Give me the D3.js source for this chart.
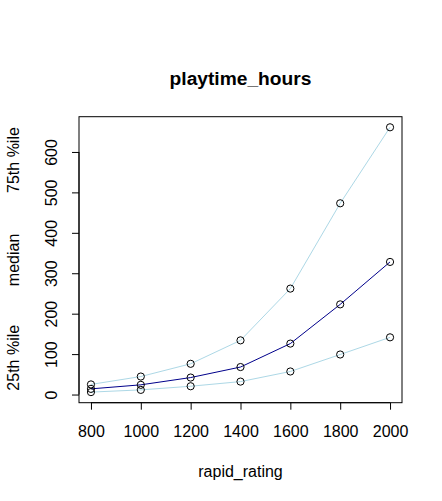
<!DOCTYPE html>
<html><head><meta charset="utf-8">
<script src="https://cdn.jsdelivr.net/npm/d3@7"></script>
<style>body{margin:0;background:#fff;} text{font-family:"Liberation Sans",Arial,Helvetica,sans-serif;}</style>
</head><body>
<script>
const ratings = [800, 1000, 1200, 1400, 1600, 1800, 2000];
const p25 = [6, 11.5, 20.5, 32, 57, 99, 141.5];
const median = [14, 24, 42, 68, 126, 223, 328];
const p75 = [25, 44.5, 76, 134, 262, 473, 661];
const xTicks = [800, 1000, 1200, 1400, 1600, 1800, 2000];
const yTicks = [0, 100, 200, 300, 400, 500, 600];
const title = "playtime_hours";
const xLabel = "rapid_rating";
const sideLabels = [{text: "25th %ile", v: 91}, {text: "median", v: 333}, {text: "75th %ile", v: 580}];

const W = 442, H = 501;
const L = 79, R = 402, T = 116.7, B = 402.7;
const svg = d3.select("body").append("svg").attr("width", W).attr("height", H);

const allV = p25.concat(median, p75);
const ymin = d3.min(allV), ymax = d3.max(allV), yr = ymax - ymin;
const x = d3.scaleLinear().domain([752, 2048]).range([L, R]);
const y = d3.scaleLinear().domain([ymin - 0.04 * yr, ymax + 0.04 * yr]).range([B, T]);

// box
svg.append("rect").attr("x", L).attr("y", T).attr("width", R - L).attr("height", B - T)
  .attr("fill", "none").attr("stroke", "#000").attr("stroke-width", 1);

// x axis
const xa = svg.append("g").attr("transform", `translate(0,${B})`)
  .call(d3.axisBottom(x).tickValues(xTicks).tickSize(7).tickFormat(d3.format("d")));
xa.select(".domain").attr("d", `M${x(800)},0H${x(2000)}`);
xa.selectAll("text").attr("font-size", 16).attr("fill", "#000").attr("dy", null).attr("y", 34.5);
xa.attr("font-family", null);

// y axis
const ya = svg.append("g").attr("transform", `translate(${L},0)`)
  .call(d3.axisLeft(y).tickValues(yTicks).tickSize(7));
ya.select(".domain").attr("d", `M0,${y(0)}V${y(600)}`);
ya.attr("font-family", null);
ya.selectAll(".tick text").attr("font-size", 16).attr("fill", "#000")
  .attr("x", null).attr("dy", null).attr("text-anchor", "middle")
  .attr("transform", "translate(-22.5,0) rotate(-90)");

// lines
const line = d3.line().x((d, i) => x(ratings[i])).y(d => y(d));
const series = [{v: p75, c: "#ADD8E6"}, {v: p25, c: "#ADD8E6"}, {v: median, c: "#00008B"}];
series.forEach(s => {
  svg.append("path").datum(s.v).attr("d", line).attr("fill", "none")
    .attr("stroke", s.c).attr("stroke-width", 1);
});
series.forEach(s => {
  svg.append("g").selectAll("circle").data(s.v).join("circle")
    .attr("cx", (d, i) => x(ratings[i])).attr("cy", d => y(d)).attr("r", 3.6)
    .attr("fill", "none").attr("stroke", "#000").attr("stroke-width", 1);
});

// title
svg.append("text").attr("x", (L + R) / 2).attr("y", 85).attr("text-anchor", "middle")
  .attr("font-size", 19.2).attr("font-weight", "bold").text(title);
// x label
svg.append("text").attr("x", (L + R) / 2).attr("y", 476.5).attr("text-anchor", "middle")
  .attr("font-size", 16).text(xLabel);
// side labels
sideLabels.forEach(s => {
  svg.append("text").attr("text-anchor", "middle").attr("font-size", 16)
    .attr("transform", `translate(18.5,${y(s.v)}) rotate(-90)`).text(s.text);
});
</script>
</body></html>
